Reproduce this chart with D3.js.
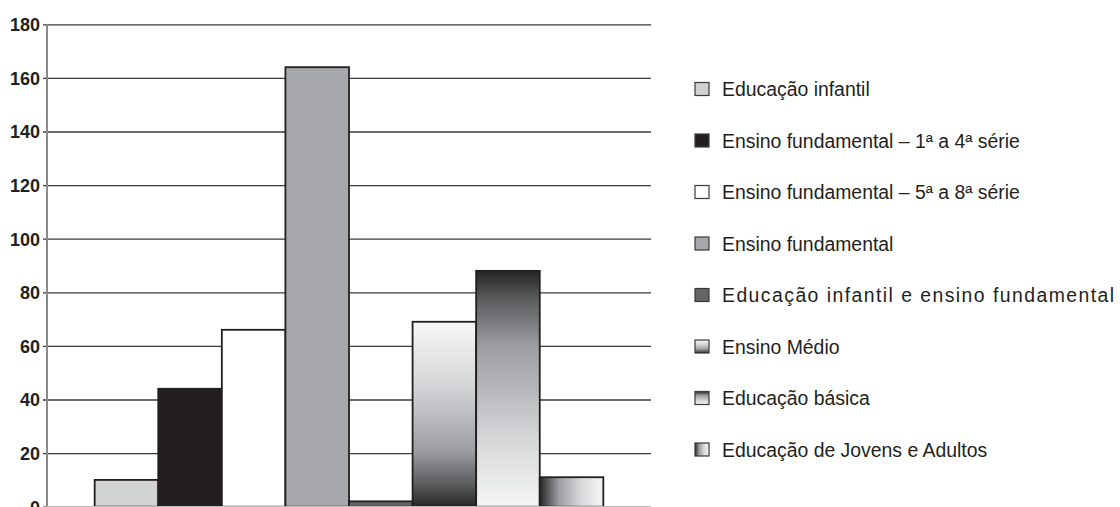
<!DOCTYPE html>
<html><head><meta charset="utf-8">
<script src="https://cdn.jsdelivr.net/npm/d3@7"></script>
<style>body{margin:0;background:#fff}svg{display:block}</style>
</head><body>
<svg id="c" width="1120" height="507"></svg>
<script>
const categories = [
  "Educação infantil",
  "Ensino fundamental – 1ª a 4ª série",
  "Ensino fundamental – 5ª a 8ª série",
  "Ensino fundamental",
  "Educação infantil e ensino fundamental",
  "Ensino Médio",
  "Educação básica",
  "Educação de Jovens e Adultos"
];
const values = [10, 44, 66, 164, 2, 69, 88, 11];
const yTicks = [0, 20, 40, 60, 80, 100, 120, 140, 160, 180];
const fills = ["#d1d2d4", "#231f20", "#ffffff", "#a7a8ab", "#636466", "url(#gMedio)", "url(#gBasica)", "url(#gEJA)"];

const svg = d3.select("#c");
const defs = svg.append("defs");
function grad(id, horiz, stops) {
  const g = defs.append("linearGradient").attr("id", id)
    .attr("x1", 0).attr("y1", 0).attr("x2", horiz ? 1 : 0).attr("y2", horiz ? 0 : 1);
  stops.forEach(s => g.append("stop").attr("offset", s[0]).attr("stop-color", s[1]));
}
grad("gMedio", false, [[0, "#f7f7f7"], [0.35, "#d4d5d7"], [0.7, "#9c9da0"], [0.88, "#5a5b5d"], [1, "#262626"]]);
grad("gBasica", false, [[0, "#262626"], [0.12, "#5a5b5d"], [0.32, "#9c9da0"], [0.7, "#d4d5d7"], [1, "#f5f5f5"]]);
grad("gEJA", true, [[0, "#262626"], [0.3, "#9c9da0"], [0.65, "#d8d9db"], [1, "#f5f5f5"]]);

const mLeft = 47, mRight = 651, mTop = 24.3, mBottom = 506.7;
const y = d3.scaleLinear().domain([0, 180]).range([mBottom, mTop]);
const x = d3.scaleBand().domain(categories).range([mLeft, mRight]).paddingInner(0).paddingOuter(0.75);

// gridlines via axis
const gAxis = svg.append("g").attr("transform", `translate(${mLeft},0)`)
  .call(d3.axisLeft(y).tickValues(yTicks).tickSize(-(mRight - mLeft)).tickSizeOuter(0).tickPadding(7));
gAxis.select(".domain").remove();
gAxis.selectAll(".tick line").attr("stroke", "#3a3a3a").attr("stroke-width", 1.3).attr("x1", -4);
gAxis.selectAll(".tick text").attr("font-family", "Liberation Sans, Arial, sans-serif")
  .attr("font-weight", "bold").attr("font-size", 18).attr("fill", "#231f20").attr("dy", "0.35em");

// y axis line
svg.append("line").attr("x1", mLeft).attr("x2", mLeft).attr("y1", mTop).attr("y2", mBottom)
  .attr("stroke", "#8a8a8a").attr("stroke-width", 2);

// bars
svg.append("g").selectAll("rect").data(values).join("rect")
  .attr("x", (d, i) => x(categories[i]))
  .attr("y", d => y(d))
  .attr("width", x.bandwidth())
  .attr("height", d => y(0) - y(d))
  .attr("fill", (d, i) => fills[i])
  .attr("stroke", "#231f20").attr("stroke-width", 1.8);

// baseline
svg.append("line").attr("x1", mLeft).attr("x2", mRight).attr("y1", y(0)).attr("y2", y(0))
  .attr("stroke", "#bbbbbb").attr("stroke-width", 1.5);

// legend
const lg = svg.append("g");
const ly = d3.scalePoint().domain(categories).range([89.5, 450]);
const items = lg.selectAll("g").data(categories).join("g")
  .attr("transform", d => `translate(695,${ly(d)})`);
items.append("rect").attr("x", 0).attr("y", -7).attr("width", 14).attr("height", 13)
  .attr("fill", (d, i) => fills[i]).attr("stroke", "#3a3a3a").attr("stroke-width", 1.2);
items.append("text").attr("x", 27).attr("dy", "0.35em")
  .attr("font-family", "Liberation Sans, Arial, sans-serif").attr("font-size", 19.4)
  .attr("fill", "#231f20")
  .attr("letter-spacing", (d, i) => i === 4 ? "1.45px" : null)
  .text(d => d);
</script>
</body></html>
